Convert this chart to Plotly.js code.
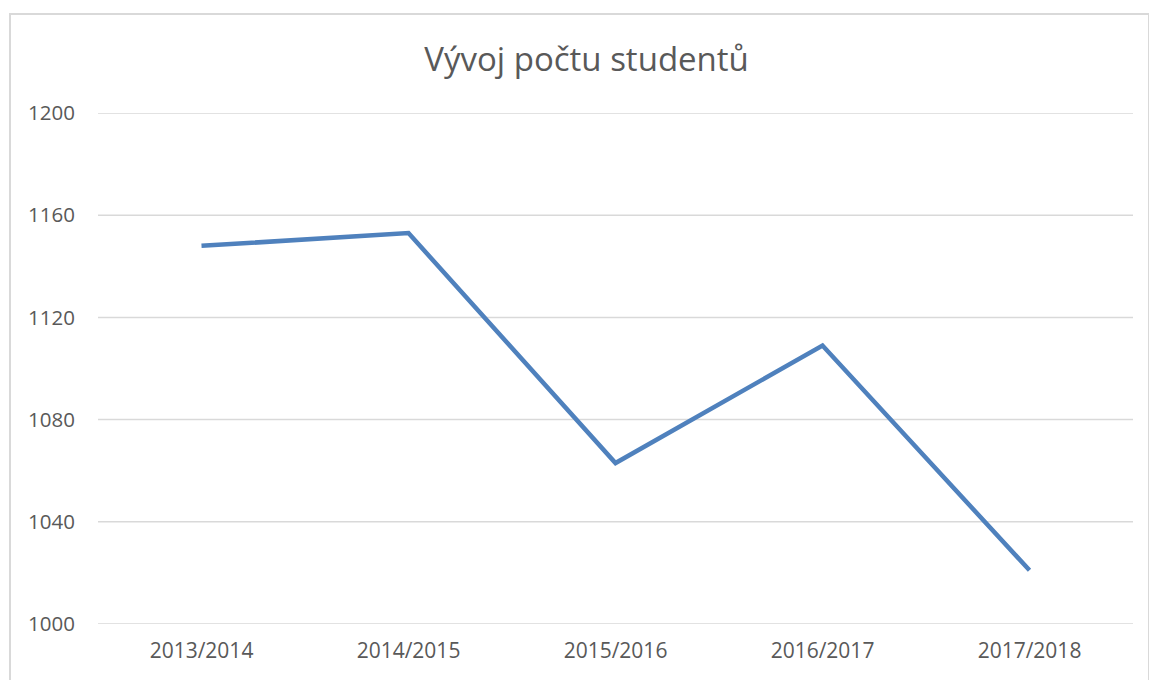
<!DOCTYPE html>
<html>
<head>
<meta charset="utf-8">
<script src="https://cdn.plot.ly/plotly-3.0.1.min.js"></script>
<style>
html,body{margin:0;padding:0;background:#fff;overflow:hidden;}
#chart{width:1149px;height:680px;}
#frame{position:absolute;left:9px;top:13px;width:1137px;height:700px;border:2px solid #d9d9d9;pointer-events:none;}
</style>
</head>
<body>
<div id="chart"></div>
<div id="frame"></div>
<script>
const years = ["2013/2014","2014/2015","2015/2016","2016/2017","2017/2018"];
const students = [1148, 1153, 1063, 1109, 1021];
const yTicks = [1000, 1040, 1080, 1120, 1160, 1200];

const trace = {
  x: years,
  y: students,
  type: 'scatter',
  mode: 'lines',
  line: {color: '#4f81bd', width: 4.5},
  hoverinfo: 'x+y'
};

// draw every gridline (incl. the edge ones) as shapes
const gridShapes = yTicks.map(v => ({
  type: 'line', xref: 'paper', yref: 'y',
  x0: 0, x1: 1, y0: v, y1: v,
  line: {color: '#d9d9d9', width: 1.5},
  layer: 'below'
}));

const layout = {
  width: 1149,
  height: 680,
  margin: {l: 98, r: 16, t: 113, b: 56},
  paper_bgcolor: '#fff',
  plot_bgcolor: '#fff',
  font: {family: 'Open Sans, Lato, sans-serif', color: '#595959', size: 20},
  title: {
    text: 'Vývoj počtu studentů',
    font: {size: 33, color: '#595959', family: 'Open Sans, sans-serif'},
    x: 0.5105, xanchor: 'center', y: 0.912, yanchor: 'middle'
  },
  showlegend: false,
  shapes: gridShapes,
  xaxis: {
    type: 'category',
    range: [-0.5, 4.5],
    showgrid: false,
    zeroline: false,
    showline: false,
    ticks: '',
    tickfont: {size: 21, color: '#595959'},
    ticklabelstandoff: 12
  },
  yaxis: {
    range: [1000, 1200],
    tickvals: yTicks,
    ticktext: yTicks.map(String),
    showgrid: false,
    zeroline: false,
    showline: false,
    ticks: '',
    tickfont: {size: 20.5, color: '#595959'},
    ticklabelstandoff: 22
  }
};

Plotly.newPlot('chart', [trace], layout, {displayModeBar: false, staticPlot: true});
</script>
</body>
</html>
